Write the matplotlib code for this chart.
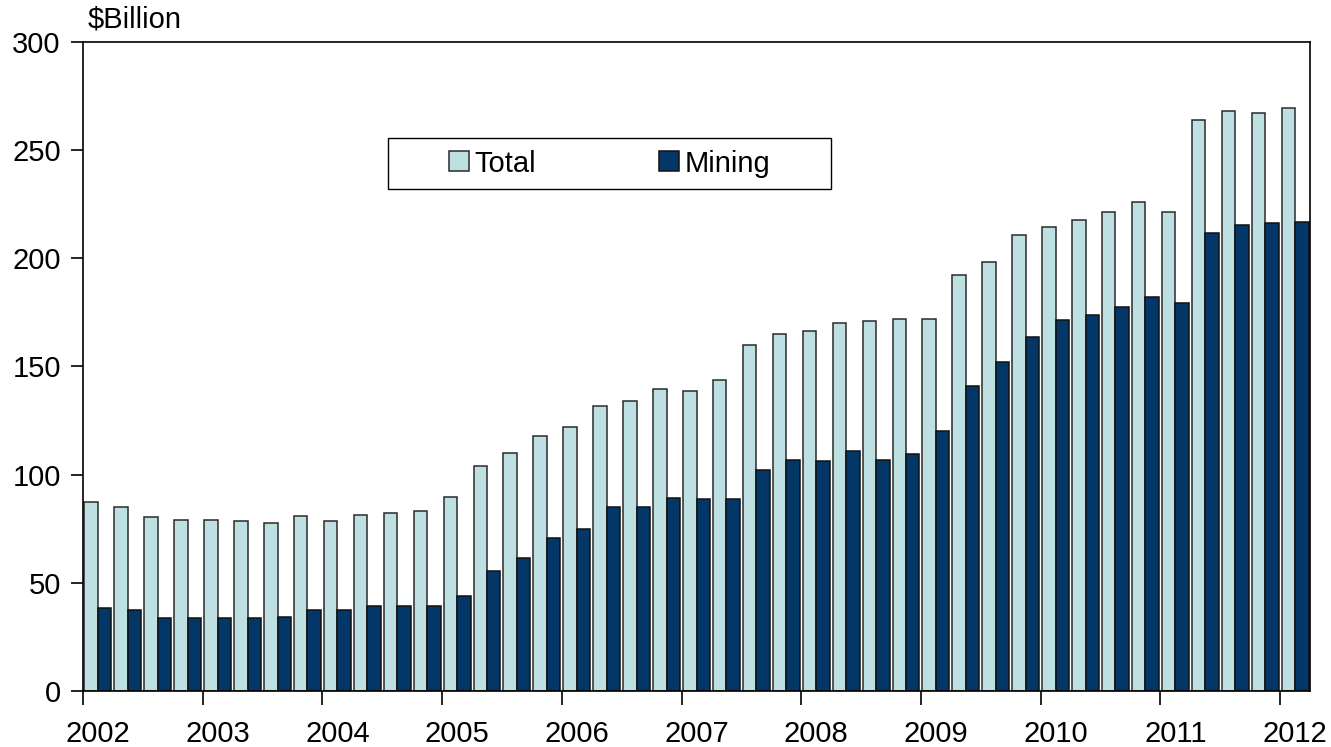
import matplotlib
matplotlib.use('Agg')
import matplotlib.pyplot as plt
import numpy as np
from matplotlib.patches import Rectangle

# quarterly values, 2002 Q1 .. 2012 Q1 ($ billion)
total = [87.3, 85.0, 80.5, 79.0, 79.0, 78.5, 77.4, 80.9, 78.5, 81.5, 82.2, 83.3,
         89.8, 103.9, 109.8, 117.7, 122.0, 131.6, 134.0, 139.5, 138.8, 143.8,
         160.0, 164.9, 166.5, 170.2, 170.9, 172.1, 172.0, 192.0, 198.0, 210.8,
         214.3, 217.4, 221.5, 225.8, 221.5, 263.8, 268.0, 266.9, 269.2]
mining = [38.5, 37.4, 33.7, 33.7, 33.7, 33.7, 34.4, 37.4, 37.4, 39.3, 39.3, 39.3,
          44.1, 55.4, 61.6, 70.6, 74.9, 85.0, 85.0, 89.3, 88.7, 88.7,
          102.0, 106.8, 106.3, 111.1, 106.8, 109.3, 120.1, 140.7, 151.9, 163.4,
          171.3, 173.9, 177.4, 182.1, 179.2, 211.7, 215.4, 216.2, 216.8]
years = ['2002', '2003', '2004', '2005', '2006', '2007', '2008', '2009',
         '2010', '2011', '2012']
y_ticks = [0, 50, 100, 150, 200, 250, 300]

TOTAL_COLOR = '#BEE0E3'
MINING_COLOR = '#033767'
FS = 21

plt.rcParams['font.family'] = ['Liberation Sans', 'DejaVu Sans']

fig = plt.figure(figsize=(13.31, 7.47), dpi=100)
ax = fig.add_axes([83 / 1331, 1 - 691 / 747, 1227 / 1331, 649.3 / 747])

x = np.arange(len(total))
w = 0.45
ax.bar(x - w / 2, total, w, color=TOTAL_COLOR, edgecolor='#2a2a2a', linewidth=1.1, label='Total')
ax.bar(x + w / 2, mining, w, color=MINING_COLOR, edgecolor='#111111', linewidth=1.1, label='Mining')

ax.set_xlim(-0.5, len(total) - 0.5)
ax.set_ylim(0, 300)
ax.set_yticks(y_ticks)
ax.set_yticklabels([str(v) for v in y_ticks], fontsize=FS)

# ticks at year boundaries, labels under the first quarter
ax.set_xticks(np.arange(0, len(total), 4) - 0.5)
ax.set_xticklabels([])
ax.set_xticks(np.arange(0, len(total), 4), minor=True)
ax.set_xticklabels(years, minor=True, fontsize=FS)
ax.tick_params(axis='x', which='major', direction='out', length=10, width=1.2)
ax.tick_params(axis='x', which='minor', length=0, pad=21)
ax.tick_params(axis='y', direction='out', length=9, width=1.2, pad=7)

for s in ax.spines.values():
    s.set_linewidth(1.2)
    s.set_color('black')

# legend with a plain box around it
leg = ax.legend(ncol=2, frameon=False, fontsize=FS, loc='center',
                bbox_to_anchor=(0.4291, 0.8124), handlelength=0.68, handleheight=0.68,
                handletextpad=0.2, columnspacing=4.2)
ax.add_patch(Rectangle((0.2486, 0.7731), 0.361, 0.0786, transform=ax.transAxes,
                       fill=False, edgecolor='black', linewidth=1.0, zorder=5))

fig.text(88 / 1331, 1 - 27 / 747, '$Billion', fontsize=FS, va='baseline', ha='left')

fig.savefig('out.png', dpi=100)
